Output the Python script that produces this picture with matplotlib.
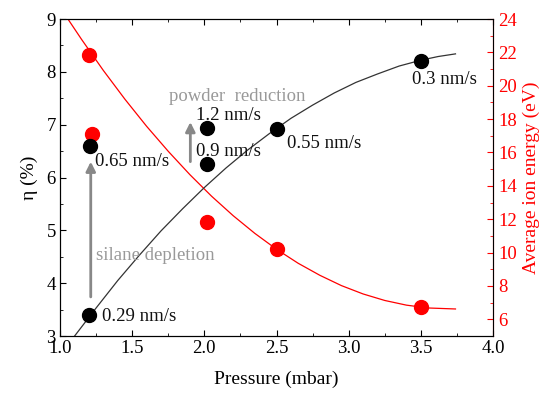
import numpy as np
import matplotlib
matplotlib.use('Agg')
import matplotlib.pyplot as plt
from matplotlib.ticker import MultipleLocator

plt.rcParams['font.family'] = ['Liberation Serif', 'DejaVu Serif']

# efficiency (left axis)
eta_x = [1.2, 1.21, 2.02, 2.02, 2.5, 3.5]
eta_y = [3.39, 6.6, 6.94, 6.25, 6.92, 8.2]
# fit line of efficiency
eta_fit_x = [1.09, 1.25, 1.4, 1.55, 1.7, 1.85, 2.0, 2.15, 2.3, 2.45, 2.6,
             2.75, 2.9, 3.05, 3.2, 3.35, 3.5, 3.62, 3.74]
eta_fit_y = [2.96, 3.53, 4.05, 4.53, 4.99, 5.41, 5.81, 6.18, 6.52, 6.83, 7.12,
             7.37, 7.60, 7.80, 7.96, 8.11, 8.22, 8.29, 8.34]

# average ion energy (right axis)
ion_x = [1.2, 1.22, 2.02, 2.5, 3.5]
ion_y = [21.84, 17.08, 11.82, 10.2, 6.74]
ion_fit_x = [1.03, 1.15, 1.3, 1.45, 1.6, 1.75, 1.9, 2.05, 2.2, 2.35, 2.5,
             2.65, 2.8, 2.95, 3.1, 3.25, 3.4, 3.55, 3.74]
ion_fit_y = [24.32, 22.77, 20.92, 19.19, 17.57, 16.07, 14.67, 13.38, 12.21, 11.15, 10.2,
             9.36, 8.64, 8.02, 7.52, 7.13, 6.85, 6.68, 6.62]

rates = ['0.29 nm/s', '0.65 nm/s', '1.2 nm/s', '0.9 nm/s', '0.55 nm/s', '0.3 nm/s']
rate_pos = [(1.29, 3.36), (1.245, 6.3), (1.94, 7.18), (1.94, 6.49), (2.575, 6.65), (3.44, 7.85)]

fig = plt.figure(figsize=(5.47, 3.96), dpi=100)
ax = fig.add_axes([0.1097, 0.1515, 0.7916, 0.8005])
ax2 = ax.twinx()
ax.set_zorder(2)
ax.patch.set_visible(False)

ax2.plot(ion_fit_x, ion_fit_y, color='red', lw=0.9)
ax2.plot(ion_x, ion_y, 'o', color='red', ms=10)

ax.plot(eta_fit_x, eta_fit_y, color='#333333', lw=0.9)
ax.plot(eta_x, eta_y, 'o', color='black', ms=10)

for txt, (px, py) in zip(rates, rate_pos):
    ax.text(px, py, txt, fontsize=13.5, va='center', ha='left', color='#111111')

ax.text(1.752, 7.54, 'powder  reduction', fontsize=13.5, va='center', ha='left', color='#999999')
ax.text(1.25, 4.53, 'silane depletion', fontsize=13.5, va='center', ha='left', color='#999999')

ap = dict(arrowstyle='-|>', color='#888888', lw=2, mutation_scale=14, shrinkA=0, shrinkB=0)
ax.annotate('', xy=(1.213, 6.3), xytext=(1.213, 3.74), arrowprops=ap)
ax.annotate('', xy=(1.903, 7.05), xytext=(1.903, 6.3), arrowprops=ap)

ax.set_xlim(1.0, 4.0)
ax.set_ylim(3, 9)
ax2.set_ylim(5, 24)

ax.xaxis.set_major_locator(MultipleLocator(0.5))
ax.xaxis.set_minor_locator(MultipleLocator(0.25))
ax.yaxis.set_major_locator(MultipleLocator(1))
ax.yaxis.set_minor_locator(MultipleLocator(0.5))
ax2.set_yticks(np.arange(6, 25, 2))
ax2.yaxis.set_minor_locator(MultipleLocator(1))

ax.tick_params(which='both', direction='in', top=True, right=False, labelsize=13.5, pad=3)
ax.tick_params(which='major', length=4.5)
ax.tick_params(which='minor', length=2.5)
ax2.tick_params(which='both', direction='in', colors='red', labelsize=13.5, pad=4)
ax2.tick_params(which='major', length=4.5)
ax2.tick_params(which='minor', length=2.5)
ax2.spines['right'].set_color('red')

ax.set_xlabel('Pressure (mbar)', fontsize=14, labelpad=10)
ax.set_ylabel('η (%)', fontsize=14, labelpad=6)
ax2.set_ylabel('Average ion energy (eV)', fontsize=14, color='red', labelpad=4)

fig.savefig('out.png', dpi=100)
